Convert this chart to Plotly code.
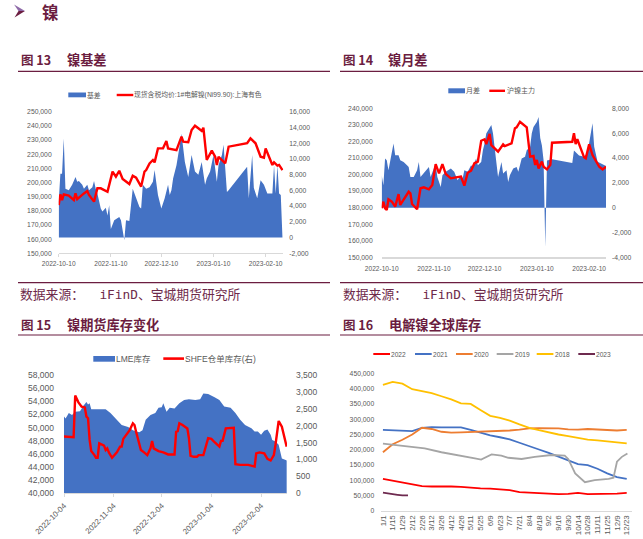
import plotly.graph_objects as go

W, H = 643, 539

# ---------------- 图13 镍基差 ----------------
basis_dates = [
    "2022-10-10", "2022-10-11", "2022-10-12", "2022-10-13", "2022-10-14", "2022-10-16", "2022-10-18", "2022-10-20", "2022-10-21", "2022-10-22",
    "2022-10-24", "2022-10-25", "2022-10-27", "2022-10-28", "2022-10-30", "2022-10-31", "2022-11-01", "2022-11-02", "2022-11-04", "2022-11-05",
    "2022-11-07", "2022-11-08", "2022-11-09", "2022-11-10", "2022-11-12", "2022-11-15", "2022-11-16", "2022-11-17", "2022-11-18", "2022-11-19",
    "2022-11-21", "2022-11-23", "2022-11-25", "2022-11-27", "2022-11-28", "2022-11-29", "2022-12-01", "2022-12-03", "2022-12-05", "2022-12-06",
    "2022-12-08", "2022-12-10", "2022-12-12", "2022-12-14", "2022-12-15", "2022-12-16", "2022-12-17", "2022-12-19", "2022-12-21", "2022-12-22",
    "2022-12-24", "2022-12-26", "2022-12-28", "2022-12-30", "2023-01-01", "2023-01-03", "2023-01-05", "2023-01-06", "2023-01-08", "2023-01-10",
    "2023-01-12", "2023-01-13", "2023-01-15", "2023-01-16", "2023-01-18", "2023-01-19", "2023-01-30", "2023-01-31", "2023-02-02", "2023-02-03",
    "2023-02-05", "2023-02-07", "2023-02-09", "2023-02-11", "2023-02-14", "2023-02-15", "2023-02-16", "2023-02-17", "2023-02-18", "2023-02-19",
    "2023-02-20"]
basis_values = [
    4500, 8100, 8100, 12600, 6200, 6000, 6700, 7700, 7100, 7200,
    6700, 6200, 6700, 6000, 6400, 7200, 6200, 5600, 3700, 3300,
    3800, 2800, 4100, 1100, 2200, 2600, 2200, 700, -350, 2200,
    2100, 6200, 5000, 3900, 3700, 6700, 6200, 6400, 7100, 8600,
    5400, 3700, 5000, 6700, 5400, 6000, 7500, 9200, 11800, 13200,
    9600, 7700, 10500, 8400, 8000, 9600, 6700, 7500, 8400, 10500,
    7100, 9200, 10500, 11800, 5800, 6000, 9000, 5000, 10500, 6300,
    5000, 7300, 6700, 5600, 5600, 9200, 5600, 9200, 5600, 5400,
    0]
spot_dates = [
    "2022-10-10", "2022-10-11", "2022-10-12", "2022-10-13", "2022-10-16", "2022-10-19", "2022-10-20", "2022-10-21", "2022-10-25", "2022-10-27",
    "2022-10-28", "2022-10-31", "2022-11-02", "2022-11-04", "2022-11-08", "2022-11-11", "2022-11-13", "2022-11-15", "2022-11-17", "2022-11-21",
    "2022-11-23", "2022-11-25", "2022-11-28", "2022-11-30", "2022-12-01", "2022-12-03", "2022-12-05", "2022-12-06", "2022-12-08", "2022-12-11",
    "2022-12-13", "2022-12-14", "2022-12-19", "2022-12-22", "2022-12-23", "2022-12-26", "2022-12-28", "2022-12-30", "2023-01-01", "2023-01-03",
    "2023-01-04", "2023-01-06", "2023-01-09", "2023-01-11", "2023-01-12", "2023-01-13", "2023-01-17", "2023-01-19", "2023-01-30", "2023-02-01",
    "2023-02-04", "2023-02-07", "2023-02-09", "2023-02-10", "2023-02-12", "2023-02-14", "2023-02-15", "2023-02-17", "2023-02-18", "2023-02-20"]
spot_values = [
    184000, 191600, 187600, 191600, 190700, 187600, 192300, 188300, 192300, 194000,
    191200, 186500, 195900, 195900, 193500, 207700, 204100, 208300, 202500, 198900,
    204800, 203400, 197100, 207700, 208800, 213500, 215900, 214200, 224100, 224100,
    229300, 224100, 222900, 232400, 228800, 228400, 237100, 240100, 238300, 236400,
    238700, 215900, 222500, 218200, 212400, 218200, 213500, 225300, 227700, 231200,
    227700, 218200, 217500, 224100, 218200, 212400, 214200, 211900, 212400, 208800]

# ---------------- 图14 镍月差 ----------------
spread_dates = [
    "2022-10-10", "2022-10-11", "2022-10-12", "2022-10-13", "2022-10-14", "2022-10-15", "2022-10-16", "2022-10-17", "2022-10-18", "2022-10-20",
    "2022-10-21", "2022-10-23", "2022-10-25", "2022-10-26", "2022-10-27", "2022-10-29", "2022-10-31", "2022-11-01", "2022-11-02", "2022-11-05",
    "2022-11-07", "2022-11-08", "2022-11-10", "2022-11-11", "2022-11-12", "2022-11-14", "2022-11-15", "2022-11-17", "2022-11-20", "2022-11-22",
    "2022-11-24", "2022-11-26", "2022-11-27", "2022-11-28", "2022-11-30", "2022-12-02", "2022-12-03", "2022-12-04", "2022-12-05", "2022-12-06",
    "2022-12-08", "2022-12-09", "2022-12-10", "2022-12-11", "2022-12-13", "2022-12-14", "2022-12-15", "2022-12-18", "2022-12-20", "2022-12-21",
    "2022-12-23", "2022-12-24", "2022-12-25", "2022-12-27", "2022-12-29", "2022-12-30", "2023-01-01", "2023-01-03", "2023-01-04", "2023-01-06",
    "2023-01-07", "2023-01-08", "2023-01-10", "2023-01-11", "2023-01-12", "2023-01-13", "2023-01-14", "2023-01-15", "2023-01-16", "2023-01-19",
    "2023-01-31", "2023-02-01", "2023-02-04", "2023-02-07", "2023-02-09", "2023-02-12", "2023-02-13", "2023-02-15", "2023-02-20"]
spread_values = [
    2610, 1800, 3950, 3820, 3010, 3820, 4630, 5170, 4220, 4220,
    3820, 3680, 3420, 3280, 2470, 2470, 3010, 3680, 2470, 3010,
    3280, 2470, 3150, 3550, 2470, 1670, 2610, 2880, 3150, 2880,
    2200, 2610, 2340, 3010, 2880, 3420, 3280, 3680, 3950, 3420,
    3680, 4630, 5170, 5970, 6510, 6650, 5970, 2470, 3680, 2740,
    3010, 2070, 2610, 3150, 3280, 2880, 3950, 4090, 4630, 4900,
    6000, 6500, 6900, 7300, 5600, 5000, 3800, -3200, 3800, 3900,
    3600, 4600, 4200, 4100, 4400, 6800, 4900, 3700, 3350]
main_dates = [
    "2022-10-10", "2022-10-11", "2022-10-12", "2022-10-13", "2022-10-14", "2022-10-16", "2022-10-18", "2022-10-20", "2022-10-21", "2022-10-24",
    "2022-10-26", "2022-10-27", "2022-10-28", "2022-10-31", "2022-11-02", "2022-11-04", "2022-11-07", "2022-11-09", "2022-11-11", "2022-11-13",
    "2022-11-15", "2022-11-17", "2022-11-20", "2022-11-23", "2022-11-26", "2022-11-28", "2022-11-30", "2022-12-02", "2022-12-04", "2022-12-06",
    "2022-12-08", "2022-12-10", "2022-12-11", "2022-12-13", "2022-12-14", "2022-12-18", "2022-12-21", "2022-12-22", "2022-12-25", "2022-12-26",
    "2022-12-28", "2022-12-29", "2022-12-31", "2023-01-02", "2023-01-04", "2023-01-06", "2023-01-08", "2023-01-09", "2023-01-10", "2023-01-11",
    "2023-01-13", "2023-01-14", "2023-01-16", "2023-01-18", "2023-01-19", "2023-01-31", "2023-02-01", "2023-02-02", "2023-02-03", "2023-02-05",
    "2023-02-07", "2023-02-08", "2023-02-10", "2023-02-12", "2023-02-14", "2023-02-16", "2023-02-18", "2023-02-20"]
main_values = [
    179600, 183600, 179600, 178600, 185000, 183600, 180600, 188200, 181600, 186600,
    189600, 188600, 182200, 179000, 191700, 192300, 191100, 193700, 206300, 200700,
    206300, 200300, 197700, 198300, 198700, 193300, 201100, 202300, 206800, 207800,
    220400, 221300, 218400, 224500, 217800, 213800, 218200, 217200, 218400, 218800,
    227900, 228500, 231900, 229900, 228500, 210800, 211200, 205800, 208800, 203700,
    207800, 204700, 203100, 205800, 219200, 219800, 224900, 218400, 221300, 215800,
    210400, 209800, 218200, 211800, 207800, 204700, 203100, 204700]

# ---------------- 图15 镍期货库存变化 ----------------
lme_dates = [
    "2022-10-04", "2022-10-05", "2022-10-07", "2022-10-09", "2022-10-11", "2022-10-14", "2022-10-16", "2022-10-18", "2022-10-19", "2022-10-20",
    "2022-10-21", "2022-10-30", "2022-11-02", "2022-11-06", "2022-11-09", "2022-11-13", "2022-11-16", "2022-11-20", "2022-11-22", "2022-11-24",
    "2022-11-27", "2022-11-30", "2022-12-02", "2022-12-04", "2022-12-05", "2022-12-07", "2022-12-09", "2022-12-12", "2022-12-15", "2022-12-18",
    "2022-12-21", "2022-12-25", "2022-12-28", "2022-12-30", "2023-01-02", "2023-01-06", "2023-01-09", "2023-01-12", "2023-01-16", "2023-01-19",
    "2023-01-22", "2023-01-25", "2023-01-27", "2023-01-29", "2023-01-31", "2023-02-02", "2023-02-04", "2023-02-06", "2023-02-08", "2023-02-10",
    "2023-02-11", "2023-02-13", "2023-02-15", "2023-02-16", "2023-02-17", "2023-02-19", "2023-02-20"]
lme_values = [
    51700, 51400, 52200, 51900, 52400, 52500, 53300, 53900, 53500, 53700,
    52800, 52800, 52200, 51200, 50400, 50100, 49600, 49300, 49600, 51200,
    51900, 52200, 53000, 53100, 53700, 52400, 53000, 52900, 53700, 54200,
    54300, 54200, 54300, 55200, 55100, 54600, 54200, 53200, 53000, 52200,
    51200, 50400, 50100, 49900, 49400, 49400, 48900, 49500, 49700, 48900,
    48100, 47900, 47400, 46200, 45300, 45100, 45000]
shfe_dates = [
    "2022-10-04", "2022-10-10", "2022-10-11", "2022-10-13", "2022-10-15", "2022-10-17", "2022-10-18", "2022-10-19", "2022-10-20", "2022-10-21",
    "2022-10-23", "2022-10-24", "2022-10-25", "2022-10-26", "2022-10-29", "2022-10-30", "2022-10-31", "2022-11-01", "2022-11-03", "2022-11-06",
    "2022-11-08", "2022-11-09", "2022-11-10", "2022-11-12", "2022-11-14", "2022-11-16", "2022-11-17", "2022-11-18", "2022-11-21", "2022-11-23",
    "2022-11-25", "2022-11-27", "2022-11-28", "2022-11-29", "2022-12-02", "2022-12-05", "2022-12-08", "2022-12-12", "2022-12-13", "2022-12-14",
    "2022-12-15", "2022-12-17", "2022-12-20", "2022-12-21", "2022-12-22", "2022-12-24", "2022-12-26", "2022-12-27", "2022-12-30", "2023-01-02",
    "2023-01-04", "2023-01-06", "2023-01-08", "2023-01-09", "2023-01-10", "2023-01-11", "2023-01-13", "2023-01-16", "2023-01-18", "2023-01-19",
    "2023-01-22", "2023-01-27", "2023-01-29", "2023-01-31", "2023-02-01", "2023-02-03", "2023-02-06", "2023-02-08", "2023-02-10", "2023-02-12",
    "2023-02-13", "2023-02-15", "2023-02-17", "2023-02-20"]
shfe_values = [
    1680, 1660, 2890, 2690, 2560, 2540, 2270, 2220, 1580, 1250,
    1130, 1050, 1050, 1480, 1410, 1280, 1330, 1210, 1050, 1210,
    1380, 1380, 1610, 1730, 1870, 2070, 2020, 1820, 1280, 1210,
    1130, 1330, 1550, 1330, 1250, 1210, 1150, 1150, 1820, 1840,
    2070, 2020, 1920, 1630, 1110, 1080, 1080, 1130, 1130, 1630,
    1610, 1510, 1430, 1380, 1550, 1550, 1920, 1940, 1940, 860,
    840, 840, 810, 790, 1180, 1210, 1180, 1020, 970, 1130,
    1430, 2140, 1970, 1380]

# ---------------- 图16 电解镍全球库存 ----------------
day_labels = ["1/1", "1/15", "1/29", "2/12", "2/26", "3/12", "3/26", "4/12", "4/26", "5/11", "5/25", "6/9", "6/23",
              "7/7", "7/21", "8/4", "8/18", "9/2", "9/16", "9/30", "10/14", "10/28", "11/11", "11/25", "12/9", "12/23"]
day_pos = [0, 14, 28, 42, 56, 70, 84, 98, 112, 126, 140, 154, 168, 182, 196, 210, 224, 238, 252, 266, 280, 294, 308, 322, 336, 350]
inv_2022 = [105000, 99000, 92000, 87000, 81000, 80000, 81000, 80000, 79000, 76000, 74000, 73000, 71000,
            68000, 62000, 60000, 59000, 57000, 55000, 56000, 59000, 55000, 55000, 56000, 57000, 59000]
inv_2021 = [265000, 263000, 262000, 261000, 272000, 274000, 273000, 272000, 273000, 265000, 255000, 247000, 241000,
            234000, 223000, 213000, 201000, 190000, 178000, 165000, 153000, 150000, 138000, 123000, 111000, 105000]
inv_2020 = [192000, 218000, 233000, 250000, 272000, 268000, 259000, 256000, 257000, 258000, 259000, 259000, 260000,
            263000, 266000, 270000, 271000, 271000, 270000, 267000, 266000, 268000, 266000, 265000, 263000, 265000]
inv_2018 = [412000, 422000, 416000, 398000, 392000, 385000, 375000, 365000, 352000, 350000, 330000, 311000, 304000,
            295000, 283000, 272000, 264000, 256000, 250000, 245000, 239000, 233000, 231000, 228000, 225000, 221000]
pos_2019 = [0, 17, 36, 60, 84, 108, 132, 141, 156, 170, 180, 199, 218, 242, 261, 266, 276, 290, 304, 324, 331, 336, 343, 351]
inv_2019 = [220000, 216000, 212000, 205000, 192000, 183000, 172000, 168000, 185000, 181000, 174000, 170000, 177000,
            183000, 181000, 170000, 123000, 94000, 101000, 105000, 109000, 161000, 177000, 188000]
pos_2023 = [0, 7, 14, 21, 28, 36]
inv_2023 = [60000, 57000, 56000, 53000, 51000, 51000]

ticks13 = ["2022-10-10", "2022-11-10", "2022-12-10", "2023-01-10", "2023-02-10"]
ticks15 = ["2022-10-04", "2022-11-04", "2022-12-04", "2023-01-04", "2023-02-04"]

# ---------------- styling ----------------
MAROON = "#6B1D40"
SRC = "#6E2A4A"
BLUE = "#4472C4"
RED = "#FF0000"
TICK = "#595959"
AXIS = "#D9D9D9"
FONT = "Liberation Sans, Noto Sans CJK SC, sans-serif"
CJK = "Noto Sans CJK SC, sans-serif"
MONO = "DejaVu Sans Mono, Noto Sans CJK SC, monospace"
YEAR_COLORS = {"2022": "#FF0000", "2021": "#4472C4", "2020": "#ED7D31",
               "2019": "#A5A5A5", "2018": "#FFC000", "2023": "#6E2A4F"}


def fx(p):
    return p / W


def fy(p):
    return 1 - p / H


fig = go.Figure()


def area(x, y, xa, ya, name):
    fig.add_trace(go.Scatter(x=x, y=y, xaxis=xa, yaxis=ya, name=name, mode="lines",
                             line=dict(width=0, color=BLUE), fill="tozeroy", fillcolor=BLUE,
                             showlegend=False, hoverinfo="skip"))


def line(x, y, xa, ya, name, color=RED, width=2.4):
    fig.add_trace(go.Scatter(x=x, y=y, xaxis=xa, yaxis=ya, name=name, mode="lines",
                             line=dict(width=width, color=color), showlegend=False, hoverinfo="skip"))


# chart 13 : basis area on right axis (base), price line on left axis (overlay, drawn on top)
area(basis_dates, basis_values, "x", "y", "基差")
line(spot_dates, spot_values, "x", "y2", "现货含税均价:1#电解镍(Ni99.90):上海有色")
# chart 14
area(spread_dates, spread_values, "x2", "y3", "月差")
line(main_dates, main_values, "x2", "y4", "沪镍主力")
# chart 15
area(lme_dates, lme_values, "x3", "y5", "LME库存")
line(shfe_dates, shfe_values, "x3", "y6", "SHFE仓单库存(右)")
# chart 16
for yr, xs, ys in [("2022", day_pos, inv_2022), ("2021", day_pos, inv_2021), ("2020", day_pos, inv_2020),
                   ("2019", pos_2019, inv_2019), ("2018", day_pos, inv_2018), ("2023", pos_2023, inv_2023)]:
    line(xs, ys, "x4", "y7", yr, color=YEAR_COLORS[yr], width=1.8)


def num_axis(lo, hi, step, side, size, standoff, anchor, domain=None, overlaying=None):
    vals = list(range(lo, hi + 1, step))
    d = dict(range=[lo, hi], tickvals=vals, ticktext=[f"{v:,}" for v in vals], side=side, anchor=anchor,
             showgrid=False, zeroline=False, showline=False, ticks="", automargin=False,
             tickfont=dict(size=size, color=TICK, family=FONT), ticklabelstandoff=standoff, fixedrange=True)
    if domain is not None:
        d["domain"] = domain
    if overlaying is not None:
        d["overlaying"] = overlaying
    return d


def date_axis(domain, anchor, rng, tickdates, size, **kw):
    d = dict(domain=domain, anchor=anchor, type="date", range=rng, tickvals=tickdates, ticktext=tickdates,
             showgrid=False, zeroline=False, showline=True, linecolor=AXIS, automargin=False,
             tickfont=dict(size=size, color=TICK, family=FONT), fixedrange=True)
    d.update(kw)
    return d


fig.update_layout(
    template="none",
    width=W, height=H, autosize=False, margin=dict(l=0, r=0, t=0, b=0, pad=0),
    paper_bgcolor="white", plot_bgcolor="white", showlegend=False,
    font=dict(family=FONT, color=TICK),
    xaxis=date_axis([fx(58.7), fx(283.3)], "y", ["2022-10-10", "2023-02-20 12:00"], ticks13, 6.6,
                    linewidth=1, ticks="outside", ticklen=3, tickcolor=AXIS, ticklabelstandoff=1),
    yaxis=num_axis(-2000, 16000, 2000, "right", 6.8, 5, "x", domain=[fy(253.3), fy(111.7)]),
    yaxis2=num_axis(150000, 250000, 10000, "left", 6.8, 6, "x", overlaying="y"),
    xaxis2=date_axis([fx(381.7), fx(606)], "y3", ["2022-10-10", "2023-02-20"], ticks13, 6.6,
                     linewidth=2, ticks="", ticklabelstandoff=4),
    yaxis3=num_axis(-4000, 8000, 2000, "right", 6.8, 5, "x2", domain=[fy(257.3), fy(108.3)]),
    yaxis4=num_axis(150000, 240000, 10000, "left", 6.8, 8, "x2", overlaying="y3"),
    xaxis3=date_axis([fx(64), fx(287)], "y5", ["2022-10-04", "2023-02-20 05:00"], ticks15, 7.8,
                     linewidth=1, ticks="outside", ticklen=3, tickcolor=AXIS, tickangle=-45, ticklabelstandoff=1),
    yaxis5=num_axis(40000, 58000, 2000, "left", 8.5, 9, "x3", domain=[fy(493.3), fy(375)]),
    yaxis6=num_axis(0, 3500, 500, "right", 8.5, 8, "x3", overlaying="y5"),
    xaxis4=dict(domain=[fx(381.2), fx(631.6)], anchor="y7", range=[-2.5, 357], tickvals=day_pos, ticktext=day_labels,
                tickangle=-90, showgrid=False, zeroline=False, showline=True, linecolor=AXIS, linewidth=1, ticks="",
                automargin=False, tickfont=dict(size=8, color=TICK, family=FONT), ticklabelstandoff=0,
                fixedrange=True),
    yaxis7=num_axis(0, 450000, 50000, "left", 6.8, 6, "x4", domain=[fy(511), fy(373.3)]),
)


def text(x, y, s, size, color=TICK, family=FONT):
    fig.add_annotation(x=fx(x), y=fy(y), xref="paper", yref="paper", text=s, showarrow=False,
                       xanchor="left", yanchor="middle", borderpad=0, borderwidth=0,
                       font=dict(size=size, color=color, family=family))


def hline(x0, x1, y, color=MAROON, width=1.2):
    fig.add_shape(type="line", xref="paper", yref="paper", x0=fx(x0), x1=fx(x1), y0=fy(y), y1=fy(y),
                  line=dict(color=color, width=width))


def rect(x0, x1, y0, y1, color):
    fig.add_shape(type="rect", xref="paper", yref="paper", x0=fx(x0), x1=fx(x1), y0=fy(y1), y1=fy(y0),
                  line=dict(width=0), fillcolor=color)


# ---- page header ----
fig.add_shape(type="path", xref="paper", yref="paper",
              path=f"M{fx(14)},{fy(4.5)} L{fx(25)},{fy(11)} L{fx(18.5)},{fy(11)} Z",
              fillcolor="#8E6AA8", line=dict(width=0))
fig.add_shape(type="path", xref="paper", yref="paper",
              path=f"M{fx(18.5)},{fy(11)} L{fx(25)},{fy(11)} L{fx(14.5)},{fy(17.5)} Z",
              fillcolor=MAROON, line=dict(width=0))
text(41.5, 11.8, "<b>镍</b>", 16.5, MAROON, CJK)

# ---- titles ----
for x_num, x_name, y, num, name in [(21, 66.5, 59.4, "图 13", "镍基差"), (343, 388.3, 59.4, "图 14", "镍月差"),
                                    (20.7, 66.7, 324.2, "图 15", "镍期货库存变化"),
                                    (343, 389.3, 324.2, "图 16", "电解镍全球库存")]:
    text(x_num, y, f"<b>{num}</b>", 12.5, MAROON, CJK)
    text(x_name, y, f"<b>{name}</b>", 13.2, MAROON, CJK)

hline(18, 330, 71.3)
hline(340, 643, 71.3)
hline(18, 330, 282.7)
hline(340, 643, 282.7)
hline(18, 330, 335)
hline(340, 643, 335)

# ---- sources ----
text(20, 294.2, "数据来源：  iFinD、宝城期货研究所", 12.8, SRC, MONO)
text(343, 294.2, "数据来源：  iFinD、宝城期货研究所", 12.8, SRC, MONO)

# ---- legends ----
rect(68.3, 86, 92.5, 97.3, BLUE)
text(87.3, 95, "基差", 6.8)
hline(116.7, 133.3, 95, RED, 2.4)
text(134.3, 95, "现货含税均价:1#电解镍(Ni99.90):上海有色", 6.8)

rect(448.3, 465, 88.3, 93.3, BLUE)
text(466, 90.8, "月差", 7)
hline(489.3, 505, 90.8, RED, 2.4)
text(506.7, 90.8, "沪镍主力", 7)

rect(93.3, 115, 356, 361.7, BLUE)
text(115.7, 358.6, "LME库存", 8.5)
hline(163.3, 184, 358.6, RED, 2.6)
text(185, 358.6, "SHFE仓单库存(右)", 8.5)

for x0, yr in [(373.3, "2022"), (415, "2021"), (456, "2020"), (496.7, "2019"), (536.7, "2018"), (578.3, "2023")]:
    hline(x0, x0 + 16.7, 354, YEAR_COLORS[yr], 2)
    text(x0 + 18, 354, yr, 6.6)

fig.write_html("out.html", config={"displayModeBar": False, "staticPlot": True},
               post_script="document.body.style.margin='0';document.body.style.padding='0';"
                           "document.body.style.overflow='hidden';")
